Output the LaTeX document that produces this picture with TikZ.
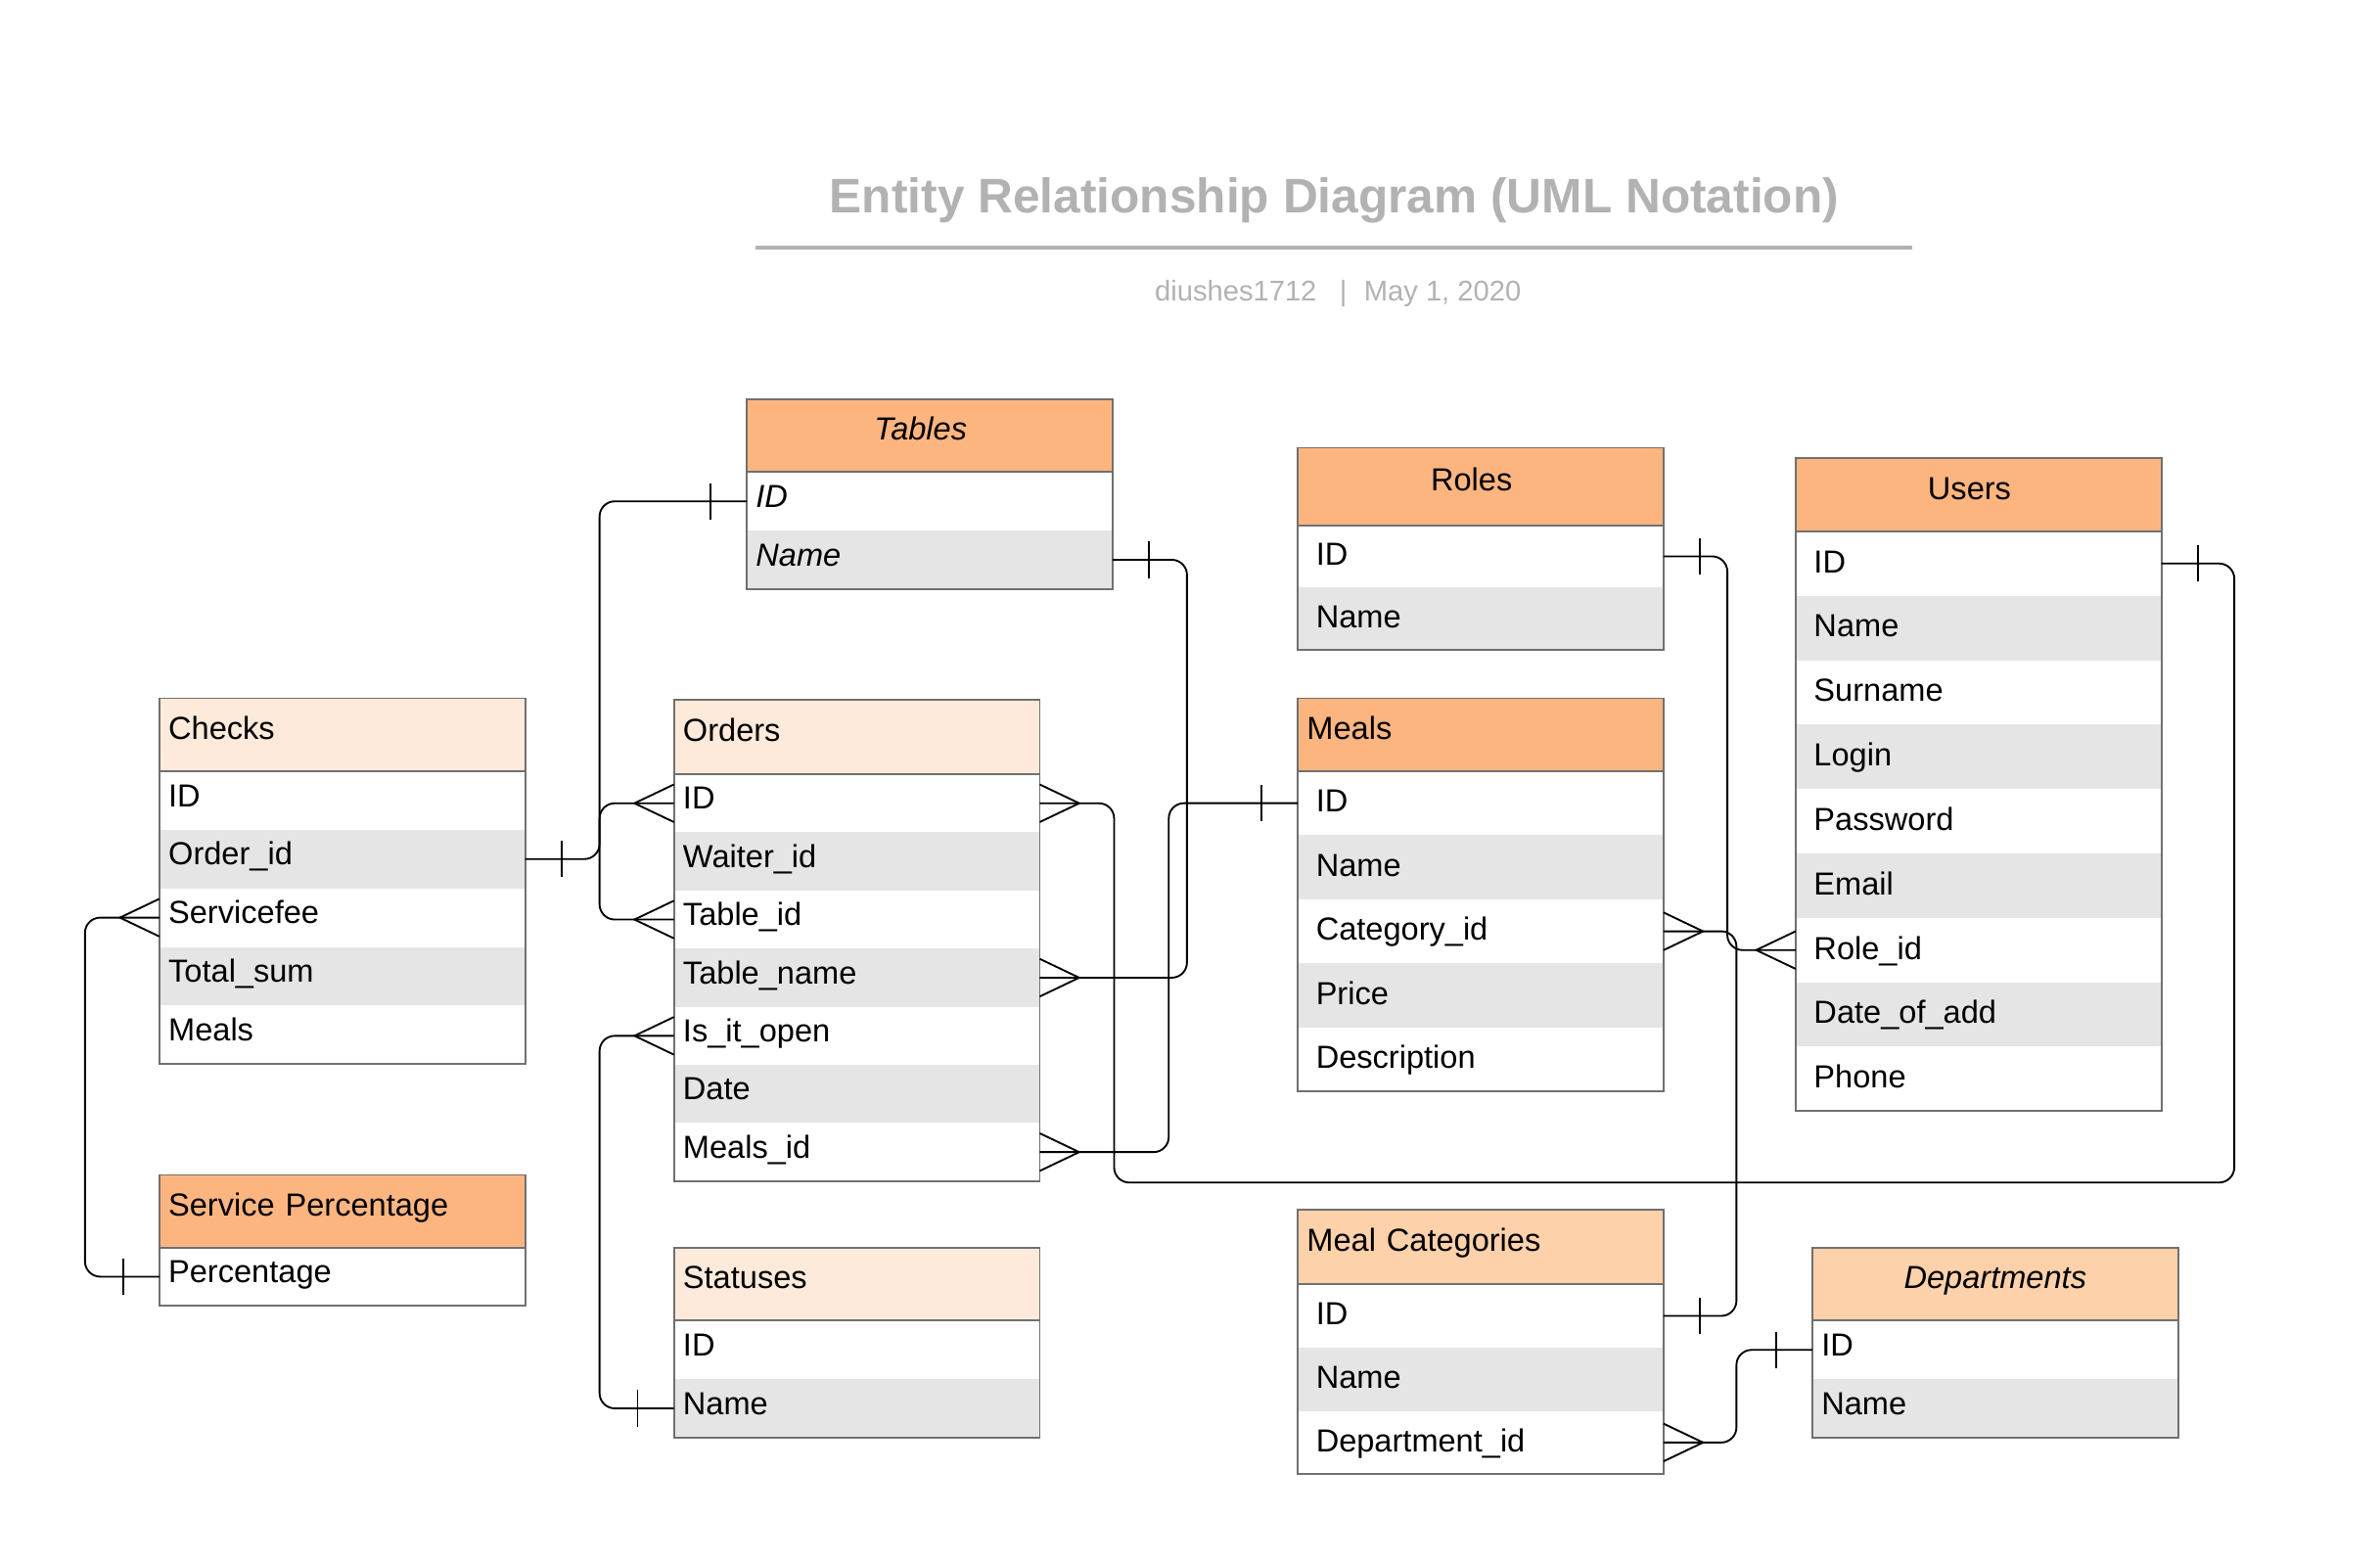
\documentclass[tikz,border=0pt]{standalone}
\usepackage{fontspec}
\setmainfont{Liberation Sans}
\usetikzlibrary{calc}
\definecolor{orA}{RGB}{253,181,128}
\definecolor{orB}{RGB}{253,209,170}
\definecolor{peach}{RGB}{253,234,218}
\definecolor{rowgray}{RGB}{229,229,229}
\definecolor{bordergray}{RGB}{112,112,112}
\definecolor{titlegray}{RGB}{178,178,178}
\newcommand\rowfont{\fontsize{10.5}{12}\selectfont}
\newcommand\lft[1]{\hspace*{-6pt}#1}
\tikzset{
  hdrbox/.style={anchor=north west, outer sep=0pt, inner ysep=0pt, draw=bordergray, line width=0.6pt, font=\rowfont, text height=7.5pt, text depth=4.5pt},
  hC/.style={text width=120.5pt, inner xsep=0pt, align=center},
  hL/.style={text width=114.5pt, inner xsep=3pt, align=left},
  rowbox/.style={anchor=north west, outer sep=0pt, inner ysep=0pt, font=\rowfont, text height=7.5pt, text depth=1.5pt, align=left},
  rowS/.style={text width=114.5pt, inner xsep=3pt, text depth=3.5pt},
  rowSi/.style={rowS, font=\rowfont\itshape},
  rowL/.style={text width=108.5pt, inner xsep=6pt},
  tblline/.style={draw=bordergray, line width=0.6pt},
  conn/.style={draw=black, line width=0.6pt, rounded corners=5pt},
  cmk/.style={draw=black, line width=0.6pt},
  titletext/.style={anchor=base, text=titlegray, font=\fontsize{16}{19}\selectfont\bfseries},
  subtext/.style={anchor=base, text=titlegray, font=\fontsize{9.4}{11}\selectfont},
}
% #1 name, #2 x, #3 top, #4 header h, #5 row h, #6 header style, #7 header text, #8 row style, #9 rows
\newcommand\ertable[9]{%
  \node[hdrbox,#6,minimum height=#4*0.5pt] (#1-h) at (#2,#3) {#7};
  \foreach \rtxt [count=\ri] in {#9}{%
    \ifodd\ri\relax\def\rc{white}\else\def\rc{rowgray}\fi
    \node[rowbox,#8,fill=\rc,minimum height=#5*0.5pt] (#1-\ri) at (#2,{#3+#4+(\ri-1)*#5}) {\rtxt};
    \xdef\ernrows{\ri}%
  }
  \draw[tblline] (#1-h.north west) rectangle (#1-\ernrows.south east);
  \draw[tblline] (#1-h.south west) -- (#1-h.south east);
}
\newcommand\ercrowW[1]{\draw[cmk] ([yshift=6.2pt]#1.west) -- ([xshift=-13pt]#1.west) -- ([yshift=-6.2pt]#1.west);}
\newcommand\ercrowE[1]{\draw[cmk] ([yshift=6.2pt]#1.east) -- ([xshift=13pt]#1.east) -- ([yshift=-6.2pt]#1.east);}
\newcommand\erbarW[1]{\draw[cmk] ([xshift=-12pt,yshift=6pt]#1.west) -- ([xshift=-12pt,yshift=-6pt]#1.west);}
\newcommand\erbarE[1]{\draw[cmk] ([xshift=12pt,yshift=6pt]#1.east) -- ([xshift=12pt,yshift=-6pt]#1.east);}
\begin{document}
\begin{tikzpicture}[x=0.5pt,y=-0.5pt]
\fill[white] (0,0) rectangle (1568,1029);
\useasboundingbox (0,0) rectangle (1568,1029);

% title
\node[titletext] (ttl) at (879,140) {Entity Relationship Diagram (UML Notation)};
\draw[titlegray, line width=1.1pt] (498,163) -- (1260,163);
\node[subtext] (sub) at (881.5,198.5) {diushes1712\hspace{0.8em}|\hspace{0.6em}May 1, 2020};

% tables
\ertable{tab}{492}{263}{48}{38.5}{hC,fill=orA}{\lft{\textit{Tables}}}{rowSi}{ID,Name}
\ertable{rol}{855}{295}{51}{41}{hC,fill=orA}{\lft{Roles}}{rowL}{ID,Name}
\ertable{usr}{1183}{302}{48}{42.44}{hC,fill=orA}{\lft{Users}}{rowL}{ID,Name,Surname,Login,Password,Email,Role\_id,Date\_of\_add,Phone}
\ertable{mea}{855}{460}{48}{42.2}{hL,fill=orA}{Meals}{rowL}{ID,Name,Category\_id,Price,Description}
\ertable{chk}{105}{460}{48}{38.6}{hL,fill=peach}{Checks}{rowS}{ID,Order\_id,Servicefee,Total\_sum,Meals}
\ertable{ord}{444}{461}{49}{38.3}{hL,fill=peach}{Orders}{rowS}{ID,Waiter\_id,Table\_id,Table\_name,Is\_it\_open,Date,Meals\_id}
\ertable{sp}{105}{774}{48}{38}{hL,fill=orA}{Service Percentage}{rowS}{Percentage}
\ertable{sta}{444}{822}{48}{38.5}{hL,fill=peach}{Statuses}{rowS}{ID,Name}
\ertable{mc}{855}{797}{49}{41.7}{hL,fill=orB}{Meal Categories}{rowL}{ID,Name,Department\_id}
\ertable{dep}{1194}{822}{48}{38.5}{hC,fill=orB}{\textit{Departments}}{rowS}{ID,Name}

% bus coordinates
\coordinate (busA) at (395,0);
\coordinate (busB) at (782,0);
\coordinate (busC) at (770,0);
\coordinate (busD) at (734,0);
\coordinate (busE) at (1472,0);
\coordinate (busF) at (1138,0);
\coordinate (busG) at (1144,0);
\coordinate (busH) at (56,0);
\coordinate (busI) at (0,779);

% connectors
\draw[conn] (tab-1.west) -- (tab-1.west -| busA) |- (ord-3.west);
\erbarW{tab-1} \ercrowW{ord-3}
\draw[conn] (chk-2.east) -- (chk-2.east -| busA) |- (ord-1.west);
\erbarE{chk-2} \ercrowW{ord-1}
\draw[conn] (tab-2.east) -- (tab-2.east -| busB) |- (ord-4.east);
\erbarE{tab-2} \ercrowE{ord-4}
\draw[conn] (mea-1.west) -- (mea-1.west -| busC) |- (ord-7.east);
\erbarW{mea-1} \ercrowE{ord-7}
\draw[conn] (ord-1.east) -- (ord-1.east -| busD) -- (busD |- busI) -- (busE |- busI) -- (busE |- usr-1.east) -- (usr-1.east);
\ercrowE{ord-1} \erbarE{usr-1}
\draw[conn] (rol-1.east) -- (rol-1.east -| busF) |- (usr-7.west);
\erbarE{rol-1} \ercrowW{usr-7}
\draw[conn] (mea-3.east) -- (mea-3.east -| busG) |- (mc-1.east);
\ercrowE{mea-3} \erbarE{mc-1}
\draw[conn] (mc-3.east) -- (mc-3.east -| busG) |- (dep-1.west);
\ercrowE{mc-3} \erbarW{dep-1}
\draw[conn] (chk-3.west) -- (chk-3.west -| busH) |- (sp-1.west);
\ercrowW{chk-3} \erbarW{sp-1}
\draw[conn] (sta-2.west) -- (sta-2.west -| busA) |- (ord-5.west);
\erbarW{sta-2} \ercrowW{ord-5}
\end{tikzpicture}
\end{document}
